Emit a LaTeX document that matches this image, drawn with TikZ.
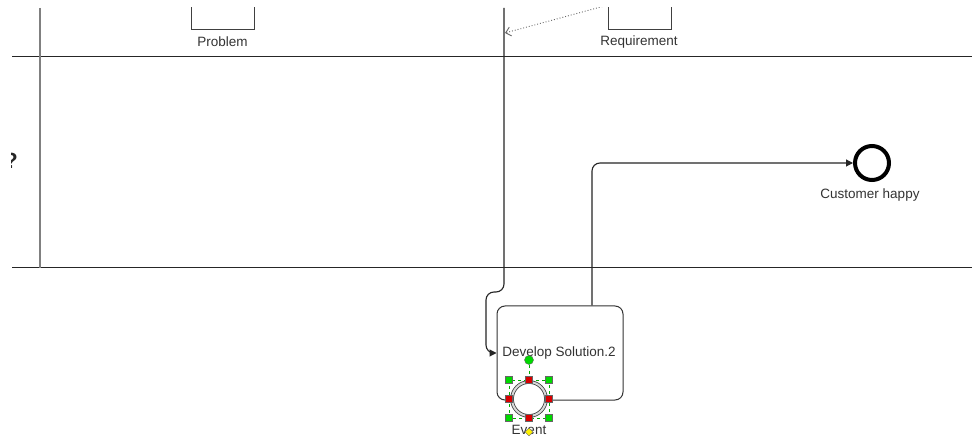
\documentclass[tikz,border=0pt]{standalone}
\usepackage{fontspec}
\setmainfont{Liberation Sans}
\usetikzlibrary{arrows.meta, shapes.geometric}

\begin{document}
\begin{tikzpicture}[
    x=1pt, y=-1pt,
    txt/.style={font=\fontsize{13.5}{15}\selectfont, text=black!80, inner sep=0pt},
    data/.style={rectangle, draw=black!75, line width=1pt, minimum width=63pt, minimum height=50pt},
    task/.style={rectangle, draw=black!80, line width=1pt, rounded corners=8pt, minimum width=126pt, minimum height=94pt, fill=white},
    flow/.style={-{Triangle[length=7pt,width=7pt]}, line width=1.1pt, black!85},
    assoc/.style={-{Straight Barb[length=5pt,width=9pt]}, dotted, line width=0.9pt, black!60},
    sel/.style={rectangle, draw=black!60, line width=0.5pt, minimum size=7pt, inner sep=0pt},
    lane/.style={black!85, line width=1pt}
]
    \useasboundingbox[fill=white] (0,0) rectangle (972,438);
    % Lanes
    \draw[lane] (12,57) -- (972,57);
    \draw[lane] (12,268) -- (972,268);
    \draw[black!50, line width=2pt] (40,8) -- (40,268);
    \begin{scope}
        \clip (11,0) rectangle (30,438);
        \node[font=\bfseries\fontsize{22}{24}\selectfont, text=black!85] (lanename) at (11,161) {?};
    \end{scope}
    % Data objects and association (cut off at the top)
    \coordinate (flowtop) at (504,8);
    \coordinate (reqtip) at (505,33);
    \begin{scope}
        \clip (0,8) rectangle (972,438);
        \node[data] (problem) at (222.5,5) {};
        \node[data] (requirement) at (640,5) {};
        \draw[assoc] (requirement.west) -- (reqtip);
    \end{scope}
    \node[txt] (problemlbl) at (222.5,42) {Problem};
    \node[txt] (requirementlbl) at (639,42) {Requirement};
    % Task
    \node[task] (devsol) at (560,353) {};
    \node[txt] (devsollbl) at (559,353) {Develop Solution.2};
    % End event
    \node[circle, draw=black, line width=4pt, minimum size=34pt, inner sep=0pt] (happy) at (872,163) {};
    \node[txt] (happylbl) at (870,195) {Customer happy};
    % Boundary event with selection handles
    \node[circle, draw=black!75, double=black!15, double distance=2pt, line width=0.8pt, minimum size=34pt, inner sep=0pt, fill=white] (event) at (529,399) {};
    \draw[green!70!black, dashed, line width=0.6pt] (509,380) rectangle (549,418);
    \node[circle, draw=black!60, fill=green!85!black, minimum size=9pt, inner sep=0pt] (rot) at (529,360) {};
    \draw[green!70!black, dashed, line width=0.6pt] (rot) -- (529,380);
    \node[sel, fill=green!85!black] (hnw) at (509,380) {};
    \node[sel, fill=green!85!black] (hne) at (549,380) {};
    \node[sel, fill=green!85!black] (hsw) at (509,418) {};
    \node[sel, fill=green!85!black] (hse) at (549,418) {};
    \node[sel, fill=red!85!black] (hn) at (529,380) {};
    \node[sel, fill=red!85!black] (hw) at (509,399) {};
    \node[sel, fill=red!85!black] (he) at (549,399) {};
    \node[sel, fill=red!85!black] (hs) at (529,418) {};
    \node[txt] (eventlbl) at (529,430) {Event};
    \node[diamond, draw=black!60, fill=yellow, minimum size=8pt, inner sep=0pt, shape aspect=1] (hlabel) at (529,432) {};
    % Flows
    \draw[flow] (flowtop) [rounded corners=8pt] -- (504,292) -- (486,292) -- (486,353) [sharp corners] -- (devsol.west);
    \draw[flow, rounded corners=8pt] ([xshift=32pt]devsol.north) |- (happy);
\end{tikzpicture}
\end{document}
